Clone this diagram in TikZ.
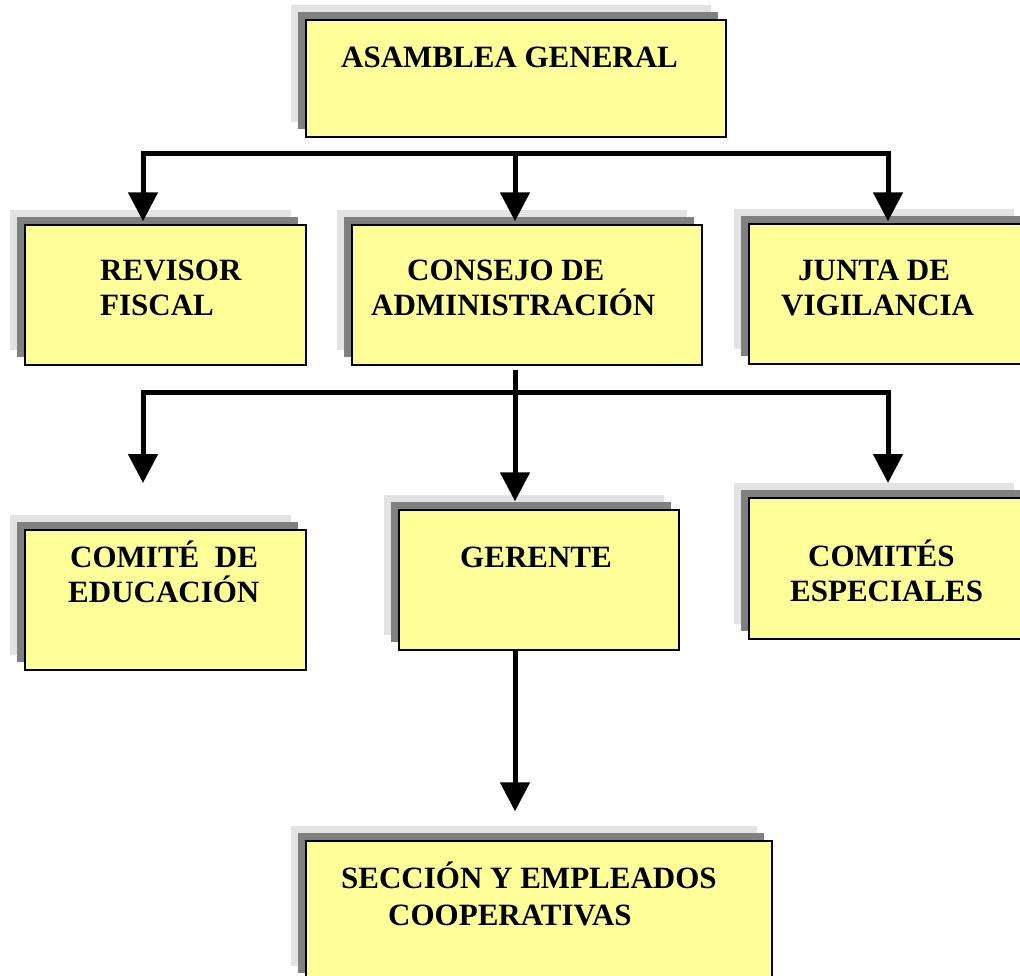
\documentclass[tikz,border=0pt]{standalone}
\usepackage{fontspec}
\setmainfont{Liberation Serif}
\usetikzlibrary{arrows.meta,shadows}
\definecolor{boxfill}{HTML}{FFFF99}
\definecolor{shlight}{HTML}{E3E3E3}
\definecolor{shdark}{HTML}{808080}
\begin{document}
\begin{tikzpicture}[x=1pt,y=-1pt,
  orgbox/.style={rectangle, draw=black, line width=1.5pt, fill=boxfill, inner sep=0pt,
    general shadow={fill=shlight, shadow xshift=-15pt, shadow yshift=15pt},
    general shadow={fill=shdark, shadow xshift=-8pt, shadow yshift=8pt}},
  lbl/.style={anchor=base west, inner sep=0pt, font=\fontsize{31}{35}\selectfont\bfseries},
  conn/.style={line width=5pt, line join=miter},
  arr/.style={conn, -{Triangle[width=29pt,length=29pt]}},
  darr/.style={conn, {Triangle[width=29pt,length=29pt]}-{Triangle[width=29pt,length=29pt]}},
]
\useasboundingbox (0,0) rectangle (1020,975);
\clip (0,0) rectangle (1020,975);

% boxes
\node[orgbox, minimum width=420pt, minimum height=117pt] (asam)  at (516,78.5) {};
\node[orgbox, minimum width=281pt, minimum height=140pt] (rev)   at (165.5,295) {};
\node[orgbox, minimum width=350pt, minimum height=140pt] (cons)  at (527,295) {};
\node[orgbox, minimum width=280pt, minimum height=140pt] (junta) at (889,294) {};
\node[orgbox, minimum width=281pt, minimum height=140pt] (comed) at (165.5,600) {};
\node[orgbox, minimum width=280pt, minimum height=140pt] (ger)   at (539,580) {};
\node[orgbox, minimum width=280pt, minimum height=141pt] (esp)   at (889,568.5) {};
\node[orgbox, minimum width=466pt, minimum height=140pt] (sec)   at (539,911) {};

% labels
\node[lbl] (tasam)  at (341,67)  {ASAMBLEA GENERAL};
\node[lbl] (trev1)  at (100,280) {REVISOR};
\node[lbl] (trev2)  at (100,315) {FISCAL};
\node[lbl] (tcons1) at (407,280) {CONSEJO DE};
\node[lbl] (tcons2) at (371,315) {ADMINISTRACIÓN};
\node[lbl] (tjun1)  at (798,280) {JUNTA DE};
\node[lbl] (tjun2)  at (781,315) {VIGILANCIA};
\node[lbl] (tcom1)  at (70,567)  {COMITÉ\ \ DE};
\node[lbl] (tcom2)  at (68,602)  {EDUCACIÓN};
\node[lbl] (tger)   at (460,567) {GERENTE};
\node[lbl] (tesp1)  at (808,566) {COMITÉS};
\node[lbl] (tesp2)  at (790,601) {ESPECIALES};
\node[lbl] (tsec1)  at (341,888) {SECCIÓN Y EMPLEADOS};
\node[lbl] (tsec2)  at (388,925) {COOPERATIVAS};

% connectors, first level
\coordinate (b1l) at (143,153);
\coordinate (b1r) at (888,153);
\coordinate (b1m) at (515,153);
\draw[darr, shorten <=3pt, shorten >=2pt] (b1l |- rev.north) -- (b1l) -- (b1r) -- (b1r |- junta.north);
\draw[arr, shorten >=3pt] (b1m) -- (b1m |- cons.north);

% connectors, second level
\coordinate (b2l) at (143,392);
\coordinate (b2r) at (888,392);
\coordinate (c2s) at (515,370);
\coordinate (e2l) at (143,483);
\coordinate (e2r) at (888,483);
\draw[darr] (e2l) -- (b2l) -- (b2r) -- (e2r);
\draw[arr, shorten >=8pt] (c2s) -- (c2s |- ger.north);

% connector, third level
\draw[arr, shorten >=29pt] (ger.south -| c2s) -- (sec.north -| c2s);
\end{tikzpicture}
\end{document}
